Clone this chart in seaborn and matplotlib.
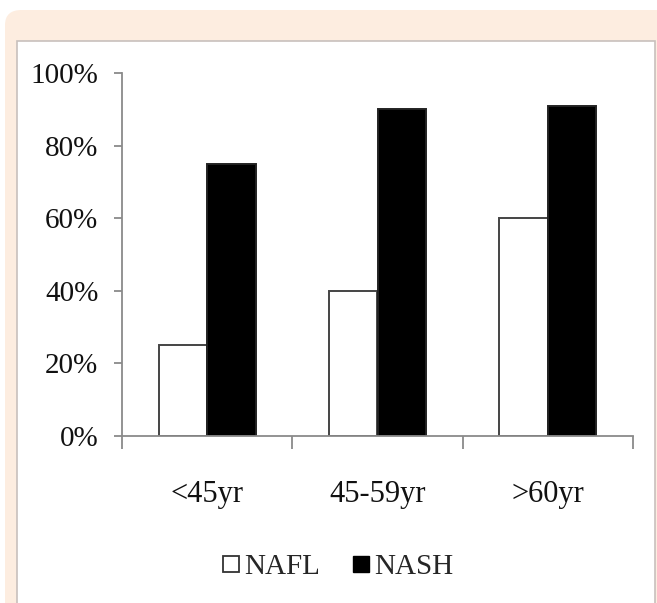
import matplotlib
matplotlib.use("Agg")
import matplotlib.pyplot as plt
import seaborn as sns
import pandas as pd
from matplotlib.patches import FancyBboxPatch, Rectangle
from matplotlib.lines import Line2D
from matplotlib.ticker import FuncFormatter, FixedLocator

# Share of patients per age group
age_groups = ["<45yr", "45-59yr", ">60yr"]
series = ["NAFL", "NASH"]
nafl_values = [0.25, 0.40, 0.60]
nash_values = [0.75, 0.90, 0.91]
y_ticks = [0.0, 0.2, 0.4, 0.6, 0.8, 1.0]

df = pd.DataFrame({
    "age": age_groups * 2,
    "group": [series[0]] * 3 + [series[1]] * 3,
    "share": nafl_values + nash_values,
})

sns.set_theme(style="white")
plt.rcParams["font.family"] = ["Liberation Serif", "DejaVu Serif"]

W, H = 657, 603
fig = plt.figure(figsize=(W / 100, H / 100), dpi=100)
fig.patch.set_facecolor("white")

# Framed card: peach rounded band with a white content panel
peach = "#fdede0"
fig.patches.append(FancyBboxPatch((5 / W, -0.1), 1.2, (H - 10) / H + 0.1,
                                  boxstyle="round,pad=0,rounding_size=0.025",
                                  transform=fig.transFigure, facecolor=peach,
                                  edgecolor="none", zorder=0))
fig.patches.append(Rectangle((17 / W, -0.05), (655 - 17) / W, (H - 41) / H + 0.05,
                             transform=fig.transFigure, facecolor="white",
                             edgecolor="#c8c0bc", linewidth=1.2, zorder=1))

ax = fig.add_axes([122 / W, (H - 436) / H, (633 - 122) / W, 363 / H])
ax.set_zorder(2)
ax.patch.set_alpha(0)

sns.barplot(data=df, x="age", y="share", hue="group", order=age_groups,
            hue_order=series, palette=["white", "black"], width=0.57, gap=0,
            edgecolor="#444444", linewidth=1.4, legend=False, ax=ax)
for bar in ax.patches:
    if bar.get_facecolor()[0] < 0.5:
        bar.set_edgecolor("#222222")

ax.set_ylim(0, 1.0)
ax.set_xlim(-0.5, 2.5)
ax.yaxis.set_major_locator(FixedLocator(y_ticks))
ax.yaxis.set_major_formatter(FuncFormatter(lambda v, _: f"{v * 100:.0f}%"))
ax.xaxis.set_minor_locator(FixedLocator([-0.5, 0.5, 1.5, 2.5]))
ax.set_xlabel("")
ax.set_ylabel("")

axis_grey = "#8a8a8a"
for side in ["top", "right"]:
    ax.spines[side].set_visible(False)
for side in ["left", "bottom"]:
    ax.spines[side].set_color(axis_grey)
    ax.spines[side].set_linewidth(1.3)

ax.tick_params(axis="y", which="major", left=True, length=6, width=1.3,
               color=axis_grey, direction="out", pad=11, labelsize=21,
               labelcolor="#111111")
ax.tick_params(axis="x", which="major", bottom=True, length=0, pad=32,
               labelsize=22, labelcolor="#111111")
ax.tick_params(axis="x", which="minor", bottom=True, length=9, width=1.3,
               color=axis_grey, direction="out")

handles = [
    Line2D([], [], linestyle="none", marker="s", markersize=11,
           markerfacecolor="white", markeredgecolor="#333333", markeredgewidth=1.3),
    Line2D([], [], linestyle="none", marker="s", markersize=11,
           markerfacecolor="black", markeredgecolor="black"),
]
fig.legend(handles, series, loc="center", bbox_to_anchor=(338 / W, 1 - 567 / H),
           ncol=2, frameon=False, fontsize=21, handlelength=0.6,
           handletextpad=0.15, columnspacing=1.1, borderpad=0)

fig.savefig("out.png", dpi=100)
